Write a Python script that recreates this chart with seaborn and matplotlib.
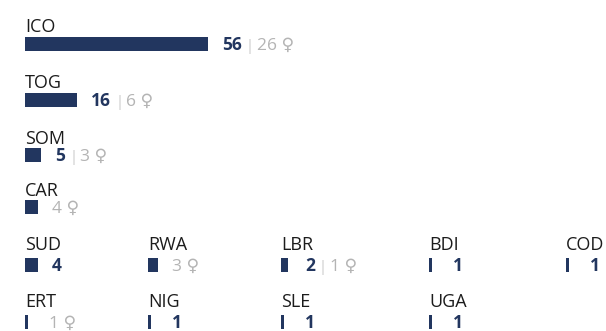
import matplotlib
matplotlib.use("Agg")
import matplotlib.pyplot as plt
import seaborn as sns

sns.set_theme(style="white")
plt.rcParams["font.family"] = ["Open Sans", "DejaVu Sans"]

# Personnel by country: total and of which women
countries = ["ICO", "TOG", "SOM", "CAR",
             "SUD", "RWA", "LBR", "BDI", "COD",
             "ERT", "NIG", "SLE", "UGA"]
totals = [56, 16, 5, 4,
          4, 3, 2, 1, 1,
          1, 1, 1, 1]
women = [26, 6, 3, 4,
         0, 3, 1, 0, 0,
         1, 0, 0, 0]

NAVY = "#22365f"
GREY = "#b4b4b4"
SEP = "#c8c8c8"
INK = "#1c1c1c"

W, H, DPI = 606, 331, 100
PX_PER_UNIT = 3.27      # bar length in pixels per person
BAR_H = 14              # bar thickness, px
# panel layout: (left px, bar top px)
row_tops = [37, 93, 148, 200, 258, 315]
col_lefts = [25, 148, 281, 429, 566]
slots = ([(col_lefts[0], row_tops[r]) for r in range(4)]
         + [(c, row_tops[4]) for c in col_lefts]
         + [(c, row_tops[5]) for c in col_lefts[:4]])

fig = plt.figure(figsize=(W / DPI, H / DPI), dpi=DPI)
fig.patch.set_facecolor("white")

FS_LABEL = 13
FS_VAL = 12.5
pt = 72 / DPI  # points per pixel

for name, tot, fem, (left, top) in zip(countries, totals, women, slots):
    width_px = W - left
    ax = fig.add_axes([left / W, (H - top - BAR_H) / H, width_px / W, BAR_H / H])
    sns.barplot(x=[tot], y=[name], orient="h", width=1.0, color=NAVY,
                saturation=1, edgecolor="none", linewidth=0, ax=ax)
    ax.set_xlim(0, width_px / PX_PER_UNIT)
    ax.set_ylim(0.5, -0.5)
    ax.axis("off")

    gap_above = 4.5 if top < 250 else 8
    ax.annotate(name, xy=(0, 1), xycoords="axes fraction",
                xytext=(0, gap_above * pt), textcoords="offset points",
                ha="left", va="baseline", fontsize=FS_LABEL, color=INK,
                annotation_clip=False)

    # value text after the bar end
    pieces = []
    if fem == 0:
        pieces.append((f"{tot}", NAVY, "bold", FS_VAL, 0))
    elif fem == tot:
        pieces.append((f"{fem} \u2640", GREY, "normal", FS_VAL, 0))
    else:
        pieces.append((f"{tot}", NAVY, "bold", FS_VAL, 0))
        pieces.append(("|", SEP, "normal", FS_VAL - 2, 4))
        pieces.append((f"{fem} \u2640", GREY, "normal", FS_VAL, 3))

    x_end = max(tot, 3)
    prev = None
    for txt, col, wt, fs, sp in pieces:
        if prev is None:
            prev = ax.annotate(txt, xy=(x_end, 0), xycoords="data",
                               xytext=(14 * pt, -6 * pt), textcoords="offset points",
                               ha="left", va="baseline", fontsize=fs, color=col,
                               fontweight=wt, annotation_clip=False)
        else:
            prev = ax.annotate(txt, xy=(1, 0), xycoords=(prev, "data"),
                               xytext=(sp * pt, -6 * pt), textcoords="offset points",
                               ha="left", va="baseline", fontsize=fs, color=col,
                               fontweight=wt, annotation_clip=False)

fig.savefig("out.png", dpi=DPI, facecolor="white")
